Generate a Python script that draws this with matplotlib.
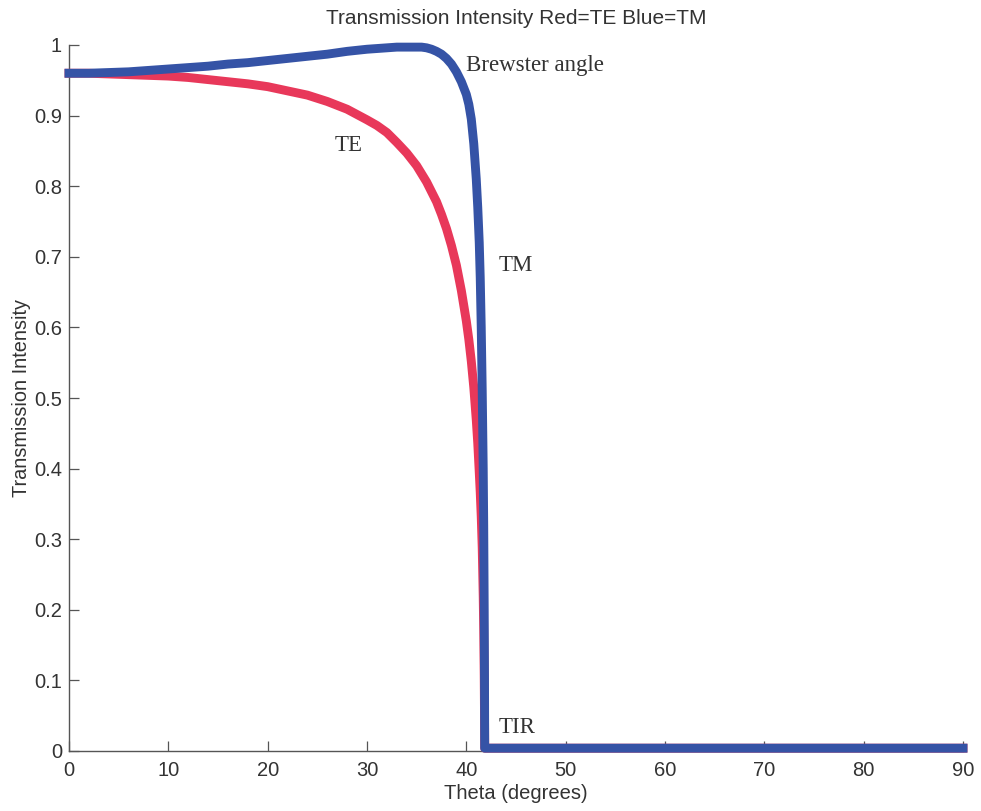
import matplotlib
matplotlib.use("Agg")
import matplotlib.pyplot as plt

# Data
theta_te = [0, 2, 4, 6, 8, 10, 12, 14, 16, 18, 20, 22, 24, 26, 28, 30, 31, 32, 33, 34,
            35, 36, 37, 37.5, 38, 38.5, 39, 39.5, 40, 40.25, 40.5, 40.75, 41, 41.15, 41.3,
            41.4, 41.5, 41.6, 41.7, 41.75, 41.8, 41.83, 41.85, 50, 60, 70, 80, 90]
te_vals = [0.960, 0.960, 0.959, 0.958, 0.957, 0.956, 0.954, 0.951, 0.948, 0.945, 0.941,
           0.935, 0.929, 0.920, 0.909, 0.894, 0.886, 0.876, 0.862, 0.847, 0.829, 0.806,
           0.778, 0.760, 0.740, 0.716, 0.688, 0.652, 0.609, 0.583, 0.552, 0.515, 0.469,
           0.436, 0.395, 0.366, 0.332, 0.287, 0.219, 0.170, 0.107, 0.050, 0.004,
           0.004, 0.004, 0.004, 0.004, 0.004]

theta_tm = [0, 2, 4, 6, 8, 10, 12, 14, 16, 18, 20, 22, 24, 26, 28, 30, 31, 32, 33, 34,
            35, 35.5, 36, 36.5, 37, 37.5, 38, 38.5, 39, 39.5, 40, 40.25, 40.5, 40.75, 41,
            41.15, 41.3, 41.4, 41.5, 41.6, 41.7, 41.75, 41.8, 41.83, 41.85, 50, 60, 70,
            80, 90]
tm_vals = [0.960, 0.960, 0.961, 0.962, 0.964, 0.966, 0.968, 0.970, 0.973, 0.975, 0.978,
           0.981, 0.984, 0.987, 0.991, 0.994, 0.995, 0.996, 0.997, 0.997, 0.997, 0.997,
           0.996, 0.994, 0.991, 0.987, 0.981, 0.973, 0.962, 0.948, 0.930, 0.916, 0.895,
           0.860, 0.810, 0.770, 0.720, 0.670, 0.600, 0.510, 0.400, 0.320, 0.200, 0.100,
           0.004, 0.004, 0.004, 0.004, 0.004, 0.004]

x_ticks = [0, 10, 20, 30, 40, 50, 60, 70, 80, 90]
y_ticks = [0, 0.1, 0.2, 0.3, 0.4, 0.5, 0.6, 0.7, 0.8, 0.9, 1]
y_tick_labels = ["0", "0.1", "0.2", "0.3", "0.4", "0.5", "0.6", "0.7", "0.8", "0.9", "1"]

title = "Transmission Intensity Red=TE Blue=TM"
xlabel = "Theta (degrees)"
ylabel = "Transmission Intensity"
annotations = [("Brewster angle", 40.0, 0.971), ("TE", 26.7, 0.857),
                ("TM", 43.3, 0.688), ("TIR", 43.3, 0.033)]

red = "#E8385A"
blue = "#3553A6"
txt = "#333333"

fig = plt.figure(figsize=(9.81, 8.11), dpi=100)
ax = fig.add_axes([69/981, 60/811, 894/981, 706/811])

ax.plot(theta_te, te_vals, color=red, lw=6.4, solid_joinstyle="round", clip_on=False, zorder=3)
ax.plot(theta_tm, tm_vals, color=blue, lw=6.4, solid_joinstyle="round", clip_on=False, zorder=4)

ax.set_xlim(0, 90)
ax.set_ylim(0, 1)
ax.set_xticks(x_ticks)
ax.set_xticklabels([str(v) for v in x_ticks])
ax.set_yticks(y_ticks)
ax.set_yticklabels(y_tick_labels)

for s in ["top", "right"]:
    ax.spines[s].set_visible(False)
for s in ["left", "bottom"]:
    ax.spines[s].set_color("#555555")
    ax.spines[s].set_linewidth(1.0)

ax.tick_params(direction="in", length=7, width=0.9, color="#555555",
               labelsize=14.5, labelcolor=txt, pad=5)
ax.tick_params(axis="x", pad=7)

sans = ["Liberation Sans", "DejaVu Sans"]
serif = ["Liberation Serif", "DejaVu Serif"]
for lab in ax.get_xticklabels() + ax.get_yticklabels():
    lab.set_fontfamily(sans)

ax.set_title(title, fontsize=15, color=txt, family=sans, pad=15)
ax.set_xlabel(xlabel, fontsize=14.5, color=txt, family=sans, labelpad=3)
ax.set_ylabel(ylabel, fontsize=14.3, color=txt, family=sans, labelpad=2)

for text, xv, yv in annotations:
    ax.text(xv, yv, text, fontsize=16.5, color=txt, family=serif,
            ha="left", va="center", zorder=5)

fig.savefig("out.png", dpi=100, facecolor="white")
